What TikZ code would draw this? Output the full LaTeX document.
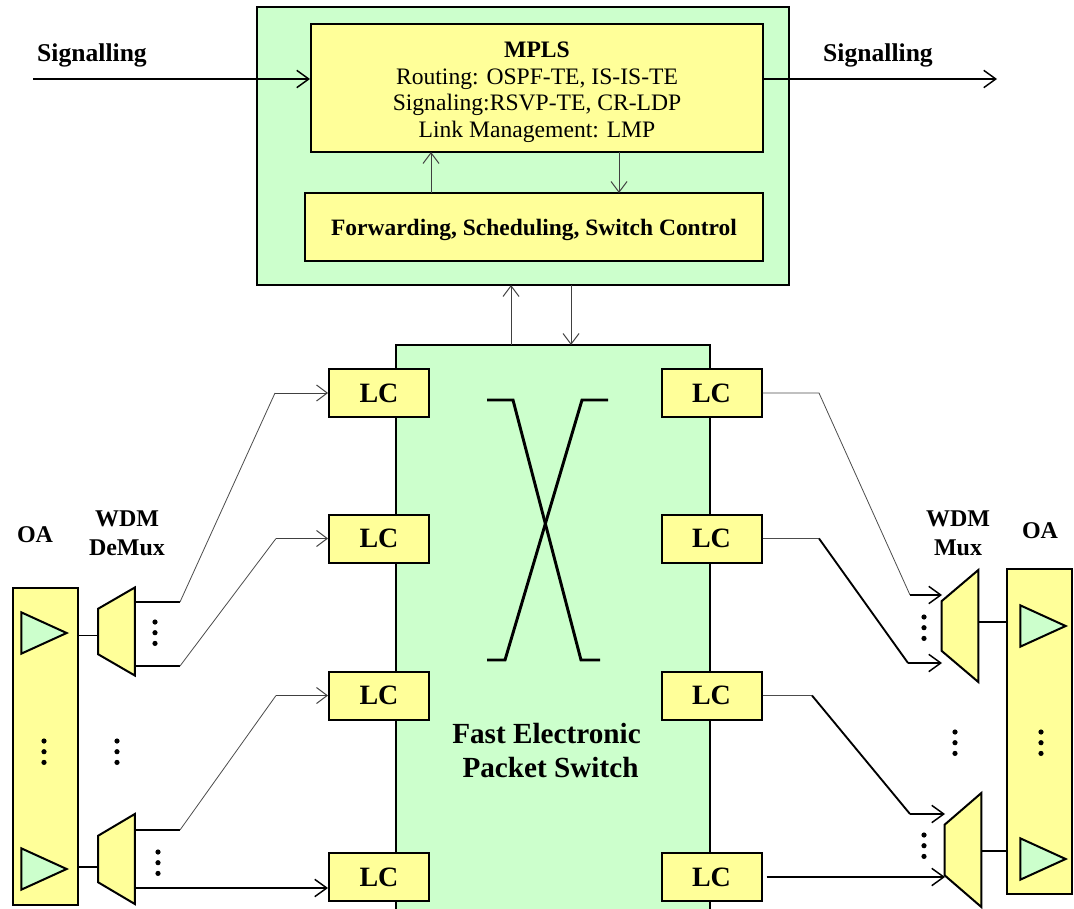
\documentclass[tikz,border=0pt]{standalone}
\usepackage{fontspec}
\setmainfont{Liberation Serif}
\usepackage{xcolor}
\usepackage{tikz}
\usetikzlibrary{shapes.geometric, arrows.meta}
\definecolor{paleyellow}{HTML}{FFFF99}
\definecolor{palegreen}{HTML}{CCFFCC}
\newcommand{\dotcol}[2]{\foreach \k in {0,1,2} \fill (#1,#2+\k*10.7) circle (2.6);}

\begin{document}
\begin{tikzpicture}[
    x=0.75pt, y=-0.75pt,
    yellowbox/.style={rectangle, draw, fill=paleyellow, line width=1.5pt, inner sep=0pt, align=center},
    greenbox/.style={rectangle, draw, fill=palegreen, line width=1.5pt, inner sep=0pt},
    lcbox/.style={yellowbox, minimum width=75pt, minimum height=36pt, font=\fontsize{21}{24}\selectfont\bfseries},
    oabox/.style={yellowbox, minimum width=48.75pt},
    amp/.style={isosceles triangle, isosceles triangle apex angle=50, isosceles triangle stretches, draw, fill=palegreen, line width=1.5pt, inner sep=0.5pt, minimum width=31pt, minimum height=34pt, anchor=apex},
    muxbox/.style={trapezium, shape border rotate=90, trapezium stretches=true, draw, fill=paleyellow, line width=1.5pt, inner sep=0.5pt, minimum height=27.5pt},
    textlabel/.style={font=\fontsize{18}{21.7}\selectfont\bfseries, align=center, inner sep=0pt},
    siglabel/.style={textlabel, font=\fontsize{19.2}{22}\selectfont\bfseries},
    thinarrow/.style={-{Straight Barb[length=8pt, width=12pt, line width=0.75pt]}, line width=0.6pt, black!75},
    thickarrow/.style={-{Straight Barb[length=9pt, width=13pt, line width=1.1pt]}, line width=1.2pt},
    thinwire/.style={line width=0.6pt, black!70},
    thickwire/.style={line width=1.4pt},
    crossline/.style={line width=2.2pt}
]
    \clip (0,0) rectangle (1074,909);

    % Control unit
    \node (control) [greenbox, minimum width=399pt, minimum height=208.5pt] at (523,146) {};
    \node (mpls) [yellowbox, minimum width=339pt, minimum height=96pt, font=\fontsize{17.7}{20}\selectfont] at (537,88)
        {\rule{0pt}{18pt}{\bfseries MPLS}\\Routing: OSPF-TE, IS-IS-TE\\Signaling:RSVP-TE, CR-LDP\\Link Management: LMP};
    \node (forward) [yellowbox, minimum width=343.5pt, minimum height=51pt, font=\fontsize{17.6}{20}\selectfont\bfseries] at (534,227)
        {\rule{0pt}{17pt}Forwarding, Scheduling, Switch Control};

    % Switch and line cards
    \node (switch) [greenbox, minimum width=235.5pt, minimum height=435pt] at (553,635) {};
    \node (switchtext) [textlabel, font=\fontsize{21.9}{25.5}\selectfont\bfseries] at (546.5,751) {Fast Electronic\\\hspace*{6pt}Packet Switch};
    \node (lca) [lcbox] at (379,393) {LC};
    \node (lcb) [lcbox] at (379,538.5) {LC};
    \node (lcc) [lcbox] at (379,695.5) {LC};
    \node (lcd) [lcbox] at (379,877) {LC};
    \node (lce) [lcbox] at (711.5,393) {LC};
    \node (lcf) [lcbox] at (711.5,538.5) {LC};
    \node (lcg) [lcbox] at (711.5,695.5) {LC};
    \node (lch) [lcbox] at (711.5,877) {LC};

    % Crossing inside the switch
    \draw [crossline] (487,400) -- (513,400) -- (581,660) -- (600,660);
    \draw [crossline] (608,400) -- (582,400) -- (505,660) -- (487,660);

    % Left side
    \node (oaleft) [oabox, minimum height=237.75pt] at (45.5,746.5) {};
    \node (ampa) [amp] at (69,633) {};
    \node (ampb) [amp] at (69,869) {};
    \node (demuxa) [muxbox, minimum width=66pt, trapezium left angle=65, trapezium right angle=65] at (116.5,631.5) {};
    \node (demuxb) [muxbox, minimum width=67.5pt, trapezium left angle=65, trapezium right angle=65] at (116.5,859) {};

    % Right side
    \node (oaright) [oabox, minimum height=243.75pt] at (1039.5,731.5) {};
    \node (ampc) [amp] at (1068,626) {};
    \node (ampd) [amp] at (1068,859) {};
    \node (muxa) [muxbox, minimum width=84pt, trapezium left angle=58, trapezium right angle=58] at (960,626) {};
    \node (muxb) [muxbox, minimum width=85.5pt, trapezium left angle=58, trapezium right angle=58] at (963,850) {};

    % Labels
    \node (siginl) [siglabel] at (92,55) {Signalling};
    \node (sigout) [siglabel] at (878,55) {Signalling};
    \node (oalabl) [textlabel] at (35,535) {OA};
    \node (demuxl) [textlabel] at (127,533) {WDM\\DeMux};
    \node (muxl) [textlabel] at (958,533) {WDM\\Mux};
    \node (oalabr) [textlabel] at (1040,531) {OA};

    % Dots
    \dotcol{155}{622}
    \dotcol{44}{741}
    \dotcol{117}{741}
    \dotcol{158}{852}
    \dotcol{924}{617}
    \dotcol{955}{732}
    \dotcol{1041}{732}
    \dotcol{924}{835}

    % Free ends and bends
    \coordinate (sigstart) at (33,79);
    \coordinate (sigend) at (997,79);
    \coordinate (bendaa) at (180,602);
    \coordinate (bendab) at (180,666);
    \coordinate (bendba) at (180,830);
    \coordinate (bendbb) at (150,888);
    \coordinate (kneeaa) at (275,393);
    \coordinate (kneeab) at (276,538.5);
    \coordinate (kneeba) at (276,695.5);
    \coordinate (bendea) at (819,393);
    \coordinate (bendfa) at (819,538.5);
    \coordinate (bendga) at (812,695.5);
    \coordinate (kneeea) at (910,595);
    \coordinate (kneefa) at (908,663);
    \coordinate (kneega) at (910,814);
    \coordinate (linka) at (88,635.5);
    \coordinate (linkb) at (88,867);
    \coordinate (linkc) at (990,622);
    \coordinate (linkd) at (990,851);

    % Paths
    \draw [thickarrow] (sigstart) -- (mpls.west |- sigstart);
    \draw [thickarrow] (mpls.east |- sigend) -- (sigend);
    \draw [thinarrow] (431,193) -- (431,152);
    \draw [thinarrow] (619,152) -- (619,193);
    \draw [thinarrow] (511,345) -- (511,285);
    \draw [thinarrow] (571,285) -- (571,345);

    \draw [thickwire] (oaleft.east |- linka) -- (98,0 |- linka);
    \draw [thickwire] (oaleft.east |- linkb) -- (98,0 |- linkb);
    \draw [thickwire] (135,0 |- bendaa) -- (bendaa);
    \draw [thickwire] (135,0 |- bendab) -- (bendab);
    \draw [thickwire] (135,0 |- bendba) -- (bendba);
    \draw [thinwire] (bendaa) -- (kneeaa);
    \draw [thinwire] (bendab) -- (kneeab);
    \draw [thinwire] (bendba) -- (kneeba);
    \draw [thinarrow] (kneeaa) -- (lca);
    \draw [thinarrow] (kneeab) -- (lcb);
    \draw [thinarrow] (kneeba) -- (lcc);
    \draw [thickarrow] (135,0 |- bendbb) -- (lcd.west |- bendbb);

    \draw [thinwire] (lce.east) -- (bendea) -- (kneeea);
    \draw [thinwire] (lcf.east) -- (bendfa);
    \draw [thinwire] (lcg.east) -- (bendga);
    \draw [thickwire] (bendfa) -- (kneefa);
    \draw [thickwire] (bendga) -- (kneega);
    \draw [thickarrow] (kneeea) -- (942,0 |- kneeea);
    \draw [thickarrow] (kneefa) -- (942,0 |- kneefa);
    \draw [thickarrow] (kneega) -- (945,0 |- kneega);
    \draw [thickarrow] (lch.east) ++(4,0) -- (945,0 |- lch.east);
    \draw [thickwire] (978,0 |- linkc) -- (oaright.west |- linkc);
    \draw [thickwire] (981,0 |- linkd) -- (oaright.west |- linkd);
\end{tikzpicture}
\end{document}
